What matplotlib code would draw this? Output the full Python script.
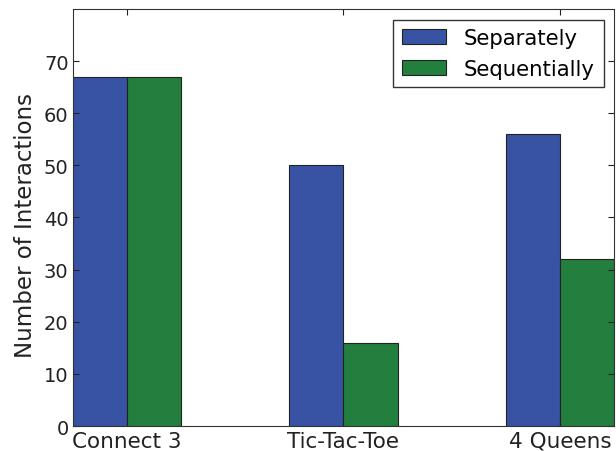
import numpy as np
import matplotlib
matplotlib.use('Agg')
import matplotlib.pyplot as plt

games = ['Connect 3', 'Tic-Tac-Toe', '4 Queens']
separately = [67, 50, 56]
sequentially = [67, 16, 32]

plt.rcParams['font.family'] = 'DejaVu Sans'
plt.rcParams['xtick.direction'] = 'in'
plt.rcParams['ytick.direction'] = 'in'

fig = plt.figure(figsize=(6.16, 4.52), dpi=100)
ax = fig.add_axes([0.118, 0.0553, 0.879, 0.9226])

x = np.arange(len(games))
width = 0.25
ax.bar(x, separately, width, align='edge', color='#3953A4', edgecolor='#222222',
       linewidth=0.8, label='Separately')
ax.bar(x + width, sequentially, width, align='edge', color='#237F3E', edgecolor='#222222',
       linewidth=0.8, label='Sequentially')

ax.set_xlim(0, 2.5)
ax.set_ylim(0, 80)
ax.set_yticks(range(0, 80, 10))
ax.set_xticks(x + width)
ax.set_xticklabels(games)
ax.tick_params(axis='both', top=True, right=True, length=4,
               colors='#222222', labelcolor='#222222')
ax.tick_params(axis='y', labelsize=14, pad=3)
ax.tick_params(axis='x', labelsize=15.5)
ax.set_ylabel('Number of Interactions', fontsize=16.5, color='#222222')
ax.yaxis.set_label_coords(-0.066, 0.484)
for s in ax.spines.values():
    s.set_color('#333333')

ax.legend(loc='upper right', fontsize=15.3, fancybox=False, edgecolor='#333333',
          framealpha=1, handlelength=2.07, handletextpad=0.85,
          borderpad=0.4, borderaxespad=0.5)

fig.savefig('out.png', dpi=100)
